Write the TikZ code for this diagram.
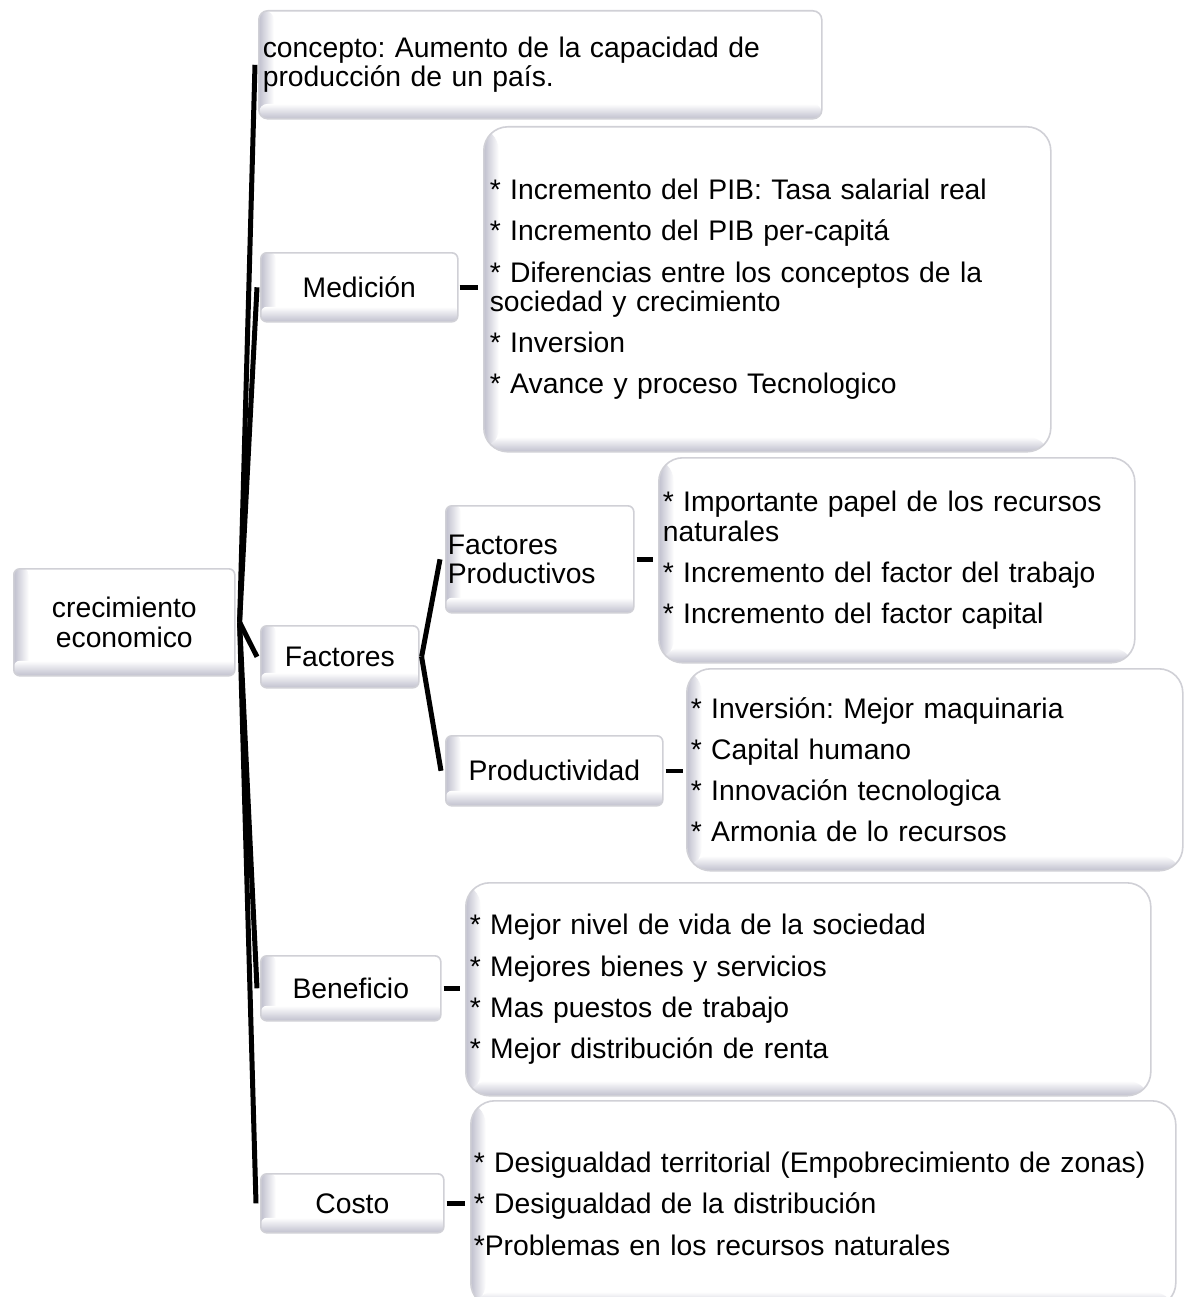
\documentclass[tikz,border=0pt]{standalone}
\usepackage{fontspec}
\setmainfont{Liberation Sans}
\usetikzlibrary{calc}
\definecolor{bevelc}{RGB}{192,192,206}
\definecolor{edgec}{RGB}{208,208,214}
\newcommand{\fsz}{\fontsize{28.3}{29.2}\selectfont\frenchspacing}
\tikzset{
  box/.style={draw=edgec, line width=1.6pt, fill=white, anchor=north west,
    font=\fsz, inner ysep=0pt,
    path picture={
      \coordinate (ppsw) at (path picture bounding box.south west);
      \coordinate (ppne) at (path picture bounding box.north east);
      \path (ppsw) ++(15pt,0pt) coordinate (ppl);
      \path (ppsw) ++(0pt,15pt) coordinate (ppb);
      \shade[left color=bevelc, right color=white] (ppsw) rectangle (ppl |- ppne);
      \shade[bottom color=bevelc, top color=white] (ppsw) rectangle (ppne |- ppb);
    }},
  smallbox/.style={box, rounded corners=6pt},
  bigbox/.style={box, rounded corners=24pt},
  conn/.style={line width=5pt, black},
  dashline/.style={line width=4.5pt, black},
}
\begin{document}
\begin{tikzpicture}[x=1pt,y=-1pt]
\useasboundingbox (0,0) rectangle (1185,1297);

% boxes
\node[smallbox, rounded corners=9pt, minimum width=563pt, minimum height=108pt, inner xsep=4pt, text width=555pt, align=left] (concepto) at (258,10)
  {concepto: Aumento de la capacidad de\\producción de un país.};

\node[smallbox, minimum width=197pt, minimum height=69pt, inner xsep=4pt, text width=189pt, align=center] (med) at (260,252) {Medición};

\node[bigbox, minimum width=567pt, minimum height=325pt, inner xsep=6pt, text width=555pt, align=left] (medc) at (483,126)
  {* Incremento del PIB: Tasa salarial real\\[12pt]
   * Incremento del PIB per-capitá\\[12pt]
   * Diferencias entre los conceptos de la\\sociedad y crecimiento\\[12pt]
   * Inversion\\[12pt]
   * Avance y proceso Tecnologico};

\node[smallbox, minimum width=221pt, minimum height=107pt, inner xsep=4pt, text width=213pt, align=center] (root) at (13,568) {crecimiento\\economico};

\node[smallbox, minimum width=158pt, minimum height=62pt, inner xsep=4pt, text width=150pt, align=center] (fact) at (260,625) {Factores};

\node[smallbox, minimum width=188pt, minimum height=107pt, inner xsep=2pt, text width=184pt, align=left] (fp) at (445,505) {Factores\\Productivos};

\node[bigbox, minimum width=476pt, minimum height=205pt, inner xsep=4pt, text width=468pt, align=left] (fpc) at (658,457)
  {* Importante papel de los recursos\\naturales\\[12pt]
   * Incremento del factor del trabajo\\[12pt]
   * Incremento del factor capital};

\node[smallbox, minimum width=217pt, minimum height=70pt, inner xsep=4pt, text width=209pt, align=center] (prod) at (445,735) {Productividad};

\node[bigbox, minimum width=496pt, minimum height=202pt, inner xsep=4pt, text width=488pt, align=left] (prodc) at (686,668)
  {* Inversión: Mejor maquinaria\\[12pt]
   * Capital humano\\[12pt]
   * Innovación tecnologica\\[12pt]
   * Armonia de lo recursos};

\node[smallbox, minimum width=180pt, minimum height=65pt, inner xsep=4pt, text width=172pt, align=center] (ben) at (260,955) {Beneficio};

\node[bigbox, minimum width=685pt, minimum height=213pt, inner xsep=4pt, text width=677pt, align=left] (benc) at (465,882)
  {* Mejor nivel de vida de la sociedad\\[12pt]
   * Mejores bienes y servicios\\[12pt]
   * Mas puestos de trabajo\\[12pt]
   * Mejor distribución de renta};

\node[smallbox, minimum width=183pt, minimum height=59pt, inner xsep=4pt, text width=175pt, align=center] (costo) at (260,1173) {Costo};

\node[bigbox, minimum width=705pt, minimum height=206pt, inner xsep=3pt, text width=699pt, align=left] (costoc) at (470,1100)
  {* Desigualdad territorial (Empobrecimiento de zonas)\\[12pt]
   * Desigualdad de la distribución\\[12pt]
   *Problemas en los recursos naturales};

% main bracket
\coordinate (R) at ([xshift=4pt]root.east);
\draw[conn] (R) -- ([xshift=-3pt]concepto.west);
\draw[conn] (R) -- ([xshift=-3pt]med.west);
\draw[conn] (R) -- ([xshift=-3pt]fact.west);
\draw[conn] (R) -- ([xshift=-3pt]ben.west);
\draw[conn] (R) -- ([xshift=-4pt]costo.west);

% second bracket
\coordinate (F) at ([xshift=2pt]fact.east);
\draw[conn] (F) -- ([xshift=-5pt]fp.west);
\draw[conn] (F) -- ([xshift=-4pt]prod.west);

% dashes
\draw[dashline, shorten <=1pt, shorten >=5pt] (med.east) -- (med.east -| medc.west);
\draw[dashline, shorten <=2pt, shorten >=5pt] (fp.east) -- (fp.east -| fpc.west);
\draw[dashline, shorten <=2pt, shorten >=3pt] (prod.east) -- (prod.east -| prodc.west);
\draw[dashline, shorten <=2pt, shorten >=5pt] (ben.east) -- (ben.east -| benc.west);
\draw[dashline, shorten <=2pt, shorten >=5pt] (costo.east) -- (costo.east -| costoc.west);
\end{tikzpicture}
\end{document}
